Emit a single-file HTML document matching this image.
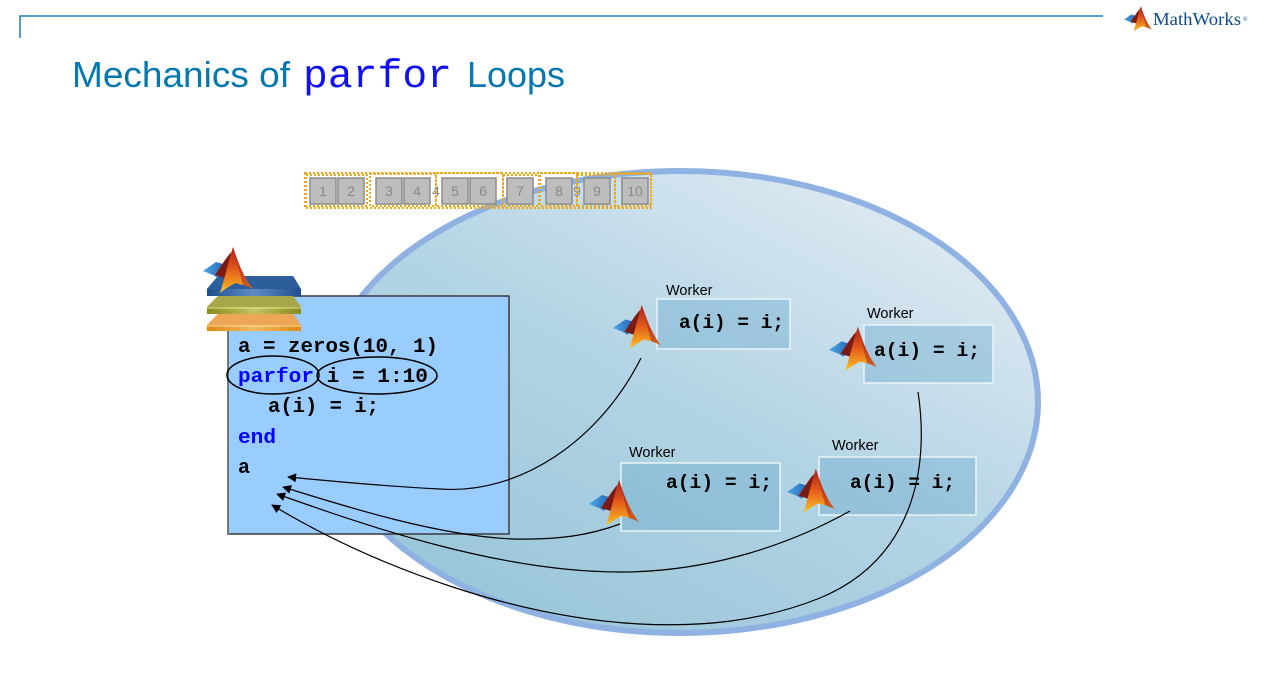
<!DOCTYPE html>
<html><head><meta charset="utf-8"><style>
html,body{margin:0;padding:0;background:#fff;}
svg{display:block;}
.mono{font-family:"Liberation Mono","Courier New",monospace;font-weight:bold;}
.sans{font-family:"Liberation Sans",Arial,sans-serif;}
</style></head><body>
<svg width="1276" height="682" viewBox="0 0 1276 682" xmlns="http://www.w3.org/2000/svg">
<defs>
  <linearGradient id="ellg" x1="0.85" y1="0.1" x2="0.2" y2="0.9">
    <stop offset="0" stop-color="#dde9f1"/>
    <stop offset="0.5" stop-color="#b3d4e5"/>
    <stop offset="1" stop-color="#9bc6da"/>
  </linearGradient>
  <linearGradient id="peak" x1="0" y1="0" x2="0" y2="1">
    <stop offset="0" stop-color="#a8201a"/>
    <stop offset="0.45" stop-color="#e0561c"/>
    <stop offset="0.8" stop-color="#f39a1e"/>
    <stop offset="1" stop-color="#f9cc30"/>
  </linearGradient>
  <linearGradient id="wing" x1="0" y1="0" x2="1" y2="0">
    <stop offset="0" stop-color="#4ea6e6"/>
    <stop offset="1" stop-color="#1c5fb0"/>
  </linearGradient>
  <linearGradient id="bslab" x1="0" y1="0" x2="1" y2="0">
    <stop offset="0" stop-color="#1f4f8c"/>
    <stop offset="0.5" stop-color="#5f8cc4"/>
    <stop offset="1" stop-color="#1f4f8c"/>
  </linearGradient>
  <linearGradient id="oslab" x1="0" y1="0" x2="1" y2="0">
    <stop offset="0" stop-color="#8a8a1e"/>
    <stop offset="0.5" stop-color="#c4c460"/>
    <stop offset="1" stop-color="#8a8a1e"/>
  </linearGradient>
  <linearGradient id="rslab" x1="0" y1="0" x2="1" y2="0">
    <stop offset="0" stop-color="#e08810"/>
    <stop offset="0.5" stop-color="#f5b860"/>
    <stop offset="1" stop-color="#e08810"/>
  </linearGradient>
  <symbol id="logo" viewBox="0 0 50 50">
    <path d="M0,26 L13,17 L20,19 L24,24 L15,33 L10,30 Z" fill="url(#wing)"/>
    <path d="M12,30 L22,15 L28,7 L25,34 Z" fill="#7a1a12"/>
    <path d="M17,48 C20,40 25,18 30,2 C34,14 40,32 50,44 C44,40 38,40 33,38 C28,40 22,44 17,48 Z" fill="url(#peak)"/>
    <path d="M30,2 C34,14 40,32 50,44 C46,42 43,41 40,40 C37,30 33,14 30,2 Z" fill="#b0281a" opacity="0.6"/>
  </symbol>
  <marker id="ah" viewBox="0 0 10 10" refX="9" refY="5" markerWidth="9" markerHeight="9" orient="auto" markerUnits="userSpaceOnUse">
    <path d="M0,0 L10,5 L0,10 Z" fill="#000"/>
  </marker>
</defs>

<!-- header -->
<path d="M20,38 L20,16 L1103,16" fill="none" stroke="#1b7db5" stroke-width="1.5"/>
<use href="#logo" x="1124" y="5" width="28" height="28"/>
<text x="1153" y="25" font-family="'Liberation Serif','Times New Roman',serif" font-size="18" fill="#0c4a8c" textLength="88" lengthAdjust="spacingAndGlyphs">MathWorks</text>
<text x="1243" y="21" font-family="'Liberation Serif',serif" font-size="6" fill="#0c4a8c">®</text>

<!-- title -->
<text x="72" y="87" class="sans" font-size="36" fill="#0578b0" textLength="218" lengthAdjust="spacingAndGlyphs">Mechanics of</text>
<text x="303" y="87" font-family="'Liberation Mono','Courier New',monospace" font-size="40" fill="#1010f0" textLength="149" lengthAdjust="spacingAndGlyphs">parfor</text>
<text x="467" y="87" class="sans" font-size="36" fill="#0578b0" textLength="98" lengthAdjust="spacingAndGlyphs">Loops</text>

<!-- ellipse -->
<ellipse cx="680" cy="402" rx="358" ry="231" fill="url(#ellg)" stroke="#8fb2e2" stroke-width="6"/>

<!-- number boxes -->
<g fill="none" stroke="#f0a810" stroke-width="2" stroke-dasharray="2,2">
  <rect x="305" y="173" width="346" height="35"/>
  <rect x="306" y="175" width="61" height="31"/>
  <rect x="370" y="174" width="66" height="32"/>
  <rect x="436" y="173" width="67" height="33"/>
  <rect x="503" y="175" width="36" height="31"/>
  <rect x="540" y="173" width="37" height="33"/>
  <rect x="577" y="175" width="38" height="31"/>
  <rect x="615" y="174" width="36" height="32"/>
</g>
<g fill="#bdbdbd" stroke="#8c8c8c" stroke-width="1.5">
  <rect x="310" y="178" width="26" height="26"/>
  <rect x="338" y="178" width="26" height="26"/>
  <rect x="376" y="178" width="26" height="26"/>
  <rect x="404" y="178" width="26" height="26"/>
  <rect x="442" y="178" width="26" height="26"/>
  <rect x="470" y="178" width="26" height="26"/>
  <rect x="507" y="178" width="26" height="26"/>
  <rect x="546" y="178" width="26" height="26"/>
  <rect x="584" y="178" width="26" height="26"/>
  <rect x="622" y="178" width="26" height="26"/>
</g>
<g class="sans" font-size="14" fill="#8a8a8a" text-anchor="middle">
  <text x="323" y="196">1</text>
  <text x="351" y="196">2</text>
  <text x="389" y="196">3</text>
  <text x="417" y="196">4</text>
  <text x="436" y="196">4</text>
  <text x="455" y="196">5</text>
  <text x="483" y="196">6</text>
  <text x="520" y="196">7</text>
  <text x="559" y="196">8</text>
  <text x="577" y="196">9</text>
  <text x="597" y="196">9</text>
  <text x="635" y="196">10</text>
</g>

<!-- code box -->
<rect x="228" y="296" width="281" height="238" fill="#99ccff" stroke="#3a3a3a" stroke-width="1.5"/>
<line x1="228" y1="296" x2="228" y2="534" stroke="#777" stroke-width="2"/>

<!-- stack -->
<polygon points="207,331 301,331 301,325 293,314 218,314 207,325" fill="url(#rslab)"/>
<polygon points="218,314 293,314 301,325 207,325" fill="#eea656"/>
<line x1="207" y1="326" x2="301" y2="326" stroke="#fbe3b0" stroke-width="1"/>
<polygon points="207,314 301,314 301,307 293,296 218,296 207,307" fill="url(#oslab)"/>
<polygon points="218,296 293,296 301,307 207,307" fill="#a8a848"/>
<line x1="207" y1="308" x2="301" y2="308" stroke="#e8e8a0" stroke-width="1"/>
<polygon points="207,296 301,296 301,289 293,276 218,276 207,289" fill="url(#bslab)"/>
<polygon points="218,276 293,276 301,289 207,289" fill="#2d5e9c"/>
<use href="#logo" x="203" y="245" width="50" height="50"/>

<!-- code text -->
<g class="mono" font-size="20" fill="#000">
  <text x="238" y="352" textLength="200" lengthAdjust="spacingAndGlyphs">a = zeros(10, 1)</text>
  <text x="238" y="382" textLength="190" lengthAdjust="spacingAndGlyphs"><tspan fill="#0000ff">parfor</tspan> i = 1:10</text>
  <text x="268" y="412" textLength="111" lengthAdjust="spacingAndGlyphs">a(i) = i;</text>
  <text x="238" y="443" fill="#0000ff" textLength="38" lengthAdjust="spacingAndGlyphs">end</text>
  <text x="238" y="473">a</text>
</g>
<ellipse cx="273" cy="375" rx="46" ry="19" fill="none" stroke="#000" stroke-width="1.5"/>
<ellipse cx="377" cy="375.5" rx="60" ry="18.5" fill="none" stroke="#000" stroke-width="1.5"/>

<!-- workers -->
<g fill="rgba(110,172,204,0.42)" stroke="rgba(236,246,251,0.95)" stroke-width="1.5">
  <rect x="657" y="299" width="133" height="50"/>
  <rect x="864" y="325" width="129" height="58"/>
  <rect x="621" y="463" width="159" height="68"/>
  <rect x="819" y="457" width="157" height="58"/>
</g>
<g class="sans" font-size="14.5" fill="#000">
  <text x="666" y="295">Worker</text>
  <text x="867" y="318">Worker</text>
  <text x="629" y="457">Worker</text>
  <text x="832" y="450">Worker</text>
</g>
<g class="mono" font-size="19" fill="#000">
  <text x="679" y="328" textLength="105" lengthAdjust="spacingAndGlyphs">a(i) = i;</text>
  <text x="874" y="356" textLength="106" lengthAdjust="spacingAndGlyphs">a(i) = i;</text>
  <text x="666" y="488" textLength="106" lengthAdjust="spacingAndGlyphs">a(i) = i;</text>
  <text x="850" y="488" textLength="105" lengthAdjust="spacingAndGlyphs">a(i) = i;</text>
</g>
<use href="#logo" x="613" y="303" width="48" height="48"/>
<use href="#logo" x="829" y="325" width="48" height="48"/>
<use href="#logo" x="589" y="478" width="50" height="50"/>
<use href="#logo" x="787" y="467" width="48" height="48"/>

<!-- arrows -->
<g fill="none" stroke="#000" stroke-width="1.2">
  <path d="M641,358 C600,440 520,495 440,489 C380,486 330,481 288,477" marker-end="url(#ah)"/>
  <path d="M620,524 C590,535 560,540 513,539 C440,536 350,508 283,487" marker-end="url(#ah)"/>
  <path d="M850,511 C780,550 700,572 620,572 C500,572 370,527 277,494" marker-end="url(#ah)"/>
  <path d="M918,392 C930,470 912,560 820,598 C760,622 700,627 640,624 C520,618 380,570 272,505" marker-end="url(#ah)"/>
</g>
</svg>
</body></html>
